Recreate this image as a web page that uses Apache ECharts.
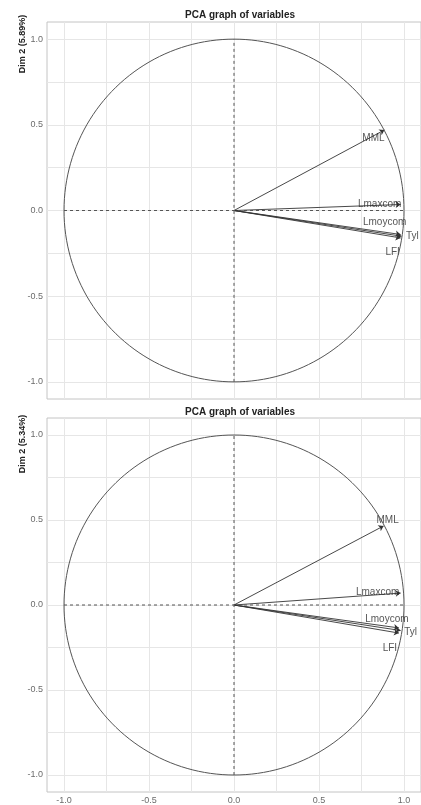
<!DOCTYPE html>
<html>
<head>
<meta charset="utf-8">
<script src="https://cdn.jsdelivr.net/npm/echarts@6/dist/echarts.min.js"></script>
<style>
  html, body { margin: 0; padding: 0; background: #fff; }
  #chart { width: 421px; height: 805px; }
</style>
</head>
<body>
<div id="chart"></div>
<script>
// variable names and their coordinates on the two PCA maps
const varNames = ['MML', 'Lmaxcom', 'Lmoycom', 'Tyl', 'LFI']
const dim1Top = [0.885, 0.98, 0.98, 0.985, 0.98]
const dim2Top = [0.47, 0.035, -0.14, -0.15, -0.16]
const dim1Bottom = [0.88, 0.98, 0.97, 0.98, 0.97]
const dim2Bottom = [0.465, 0.07, -0.135, -0.15, -0.165]
const yTitles = ['Dim 2 (5.89%)', 'Dim 2 (5.34%)']
const labelTicks = [-1, -0.5, 0, 0.5, 1]
const gridTicks = [-1, -0.75, -0.5, -0.25, 0, 0.25, 0.5, 0.75, 1]

// label nudges in pixels (style only)
const offsetsTop = [[-11, 8], [-21, 0], [-16, -12], [11, 0], [-8, 14]]
const offsetsBottom = [[4, -6], [-23, -1], [-12, -9], [10, 2], [-9, 15]]

const font = 'Liberation Sans, Arial, sans-serif'
const grids = [
  { left: 47, top: 22, width: 376, height: 377 },
  { left: 47, top: 418, width: 376, height: 374 }
]

const circle = []
for (let a = 0; a <= 360; a += 2) {
  const t = a * Math.PI / 180
  circle.push([Math.cos(t), Math.sin(t)])
}

const makeAxis = (idx, showLabel) => ({
  type: 'value',
  gridIndex: idx,
  min: -1.1,
  max: 1.1,
  axisLine: { show: false },
  axisTick: { show: false, customValues: gridTicks },
  splitLine: { show: true, lineStyle: { color: '#e6e6e6', width: 1 } },
  axisLabel: {
    show: showLabel,
    customValues: labelTicks,
    formatter: v => v.toFixed(1),
    color: '#6b6b6b',
    fontSize: 9,
    fontFamily: font,
    margin: 4
  }
})

const panelSeries = (idx, dim1, dim2, offsets) => [
  {
    type: 'line',
    xAxisIndex: idx,
    yAxisIndex: idx,
    data: circle,
    showSymbol: false,
    silent: true,
    lineStyle: { color: '#555', width: 1 }
  },
  {
    type: 'line',
    xAxisIndex: idx,
    yAxisIndex: idx,
    data: [[-1, 0], [1, 0]],
    showSymbol: false,
    lineStyle: { color: '#555', width: 1, type: [3, 3] }
  },
  {
    type: 'line',
    xAxisIndex: idx,
    yAxisIndex: idx,
    data: [[0, -1], [0, 1]],
    showSymbol: false,
    lineStyle: { color: '#555', width: 1, type: [3, 3] }
  },
  {
    type: 'lines',
    coordinateSystem: 'cartesian2d',
    xAxisIndex: idx,
    yAxisIndex: idx,
    symbol: ['none', 'arrow'],
    symbolSize: 5,
    lineStyle: { color: '#333', width: 0.9, opacity: 1 },
    data: varNames.map((n, i) => ({ coords: [[0, 0], [dim1[i], dim2[i]]] }))
  },
  {
    type: 'scatter',
    xAxisIndex: idx,
    yAxisIndex: idx,
    symbolSize: 0,
    data: varNames.map((n, i) => ({
      value: [dim1[i], dim2[i]],
      name: n,
      label: { offset: offsets[i] }
    })),
    label: {
      show: true,
      position: 'inside',
      formatter: p => p.name,
      color: '#2a2a2a',
      fontSize: 10,
      fontFamily: font
    }
  }
]

const chart = echarts.init(document.getElementById('chart'))
chart.setOption({
  animation: false,
  backgroundColor: '#fff',
  title: [
    { text: 'PCA graph of variables', left: 235, top: 5, textAlign: 'center',
      textStyle: { fontSize: 10, fontWeight: 'bold', color: '#222', fontFamily: font } },
    { text: 'PCA graph of variables', left: 235, top: 402, textAlign: 'center',
      textStyle: { fontSize: 10, fontWeight: 'bold', color: '#222', fontFamily: font } }
  ],
  graphic: yTitles.map((t, i) => ({
    type: 'text',
    x: 23,
    y: i === 0 ? 44 : 444,
    rotation: Math.PI / 2,
    style: {
      text: t,
      align: 'center',
      verticalAlign: 'middle',
      fontSize: 9,
      fontWeight: 'bold',
      fill: '#222',
      fontFamily: font
    }
  })),
  grid: grids.map(g => ({ ...g, show: true, borderColor: '#c4c4c4', borderWidth: 1 })),
  xAxis: [makeAxis(0, false), makeAxis(1, true)],
  yAxis: [makeAxis(0, true), makeAxis(1, true)],
  series: [
    ...panelSeries(0, dim1Top, dim2Top, offsetsTop),
    ...panelSeries(1, dim1Bottom, dim2Bottom, offsetsBottom)
  ]
})
</script>
</body>
</html>
